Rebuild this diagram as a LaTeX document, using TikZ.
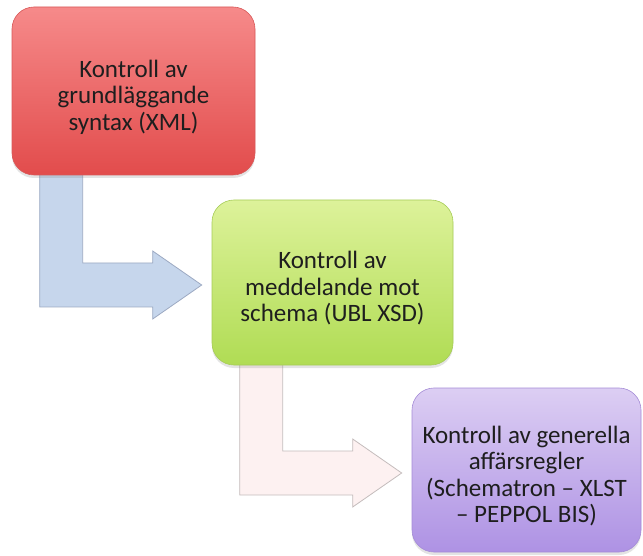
\documentclass[tikz,border=0pt]{standalone}
\usepackage{fontspec}
\setmainfont{Carlito}
\usetikzlibrary{calc,shadows}
\pgfdeclarelayer{background}
\pgfsetlayers{background,main}
\definecolor{redtop}{HTML}{F68A8A}
\definecolor{redbot}{HTML}{E24C4C}
\definecolor{redline}{HTML}{D85858}
\definecolor{greentop}{HTML}{DDF29A}
\definecolor{greenbot}{HTML}{B0DC54}
\definecolor{greenline}{HTML}{A6CC58}
\definecolor{purptop}{HTML}{DCCEF3}
\definecolor{purpbot}{HTML}{AE92E4}
\definecolor{purpline}{HTML}{A58CD6}
\definecolor{bluefill}{HTML}{C6D6EC}
\definecolor{blueline}{HTML}{9CA9C2}
\definecolor{pinkfill}{HTML}{FDF1F1}
\definecolor{pinkline}{HTML}{C4BCBC}
\definecolor{txt}{HTML}{1E1E1E}
\newcommand\boxtext[1]{\raisebox{-6pt}[\height][\depth]{\parbox{228pt}{\centering #1}}}
\begin{document}
\begin{tikzpicture}[x=1pt,y=-1pt,
  stepbox/.style={rectangle, rounded corners=22pt, text=txt,
    font=\fontsize{25}{26.5}\selectfont, inner sep=0pt, line width=0.6pt,
    drop shadow={shadow xshift=0pt,shadow yshift=-3pt,opacity=0.22}},
  blockarrow/.style={line width=0.8pt, line join=miter}]
\useasboundingbox (0,0) rectangle (643,556);

\node[stepbox, draw=redline, top color=redtop, bottom color=redbot,
      minimum width=243pt, minimum height=168pt] (b1) at (133.5,91)
  {\boxtext{Kontroll av\\grundläggande\\syntax (XML)}};
\node[stepbox, draw=greenline, top color=greentop, bottom color=greenbot,
      minimum width=241pt, minimum height=165pt] (b2) at (332.5,282.5)
  {\boxtext{Kontroll av\\meddelande mot\\schema (UBL XSD)}};
\node[stepbox, draw=purpline, top color=purptop, bottom color=purpbot,
      minimum width=229pt, minimum height=164pt] (b3) at (526.5,470)
  {\boxtext{Kontroll av generella\\affärsregler\\(Schematron – XLST\\– PEPPOL BIS)}};

\coordinate (a1s) at ($(b1.south west)+(28,-8)$);
\coordinate (a1c) at ($(b2.west)+(0,2.5)$);
\coordinate (a2s) at ($(b2.south west)+(28,-8)$);
\coordinate (a2c) at ($(b3.west)+(0,3)$);

\begin{pgfonlayer}{background}
\draw[blockarrow, draw=blueline, fill=bluefill]
  (a1s) -- ($(a1s |- a1c)+(0,22)$) -- ($(a1c)+(-59,22)$) -- ($(a1c)+(-59,34)$)
  -- ($(a1c)+(-10,0)$) -- ($(a1c)+(-59,-34)$) -- ($(a1c)+(-59,-22)$)
  -- ($(a1s |- a1c)+(43,-22)$) -- ($(a1s)+(43,0)$) -- cycle;
\draw[blockarrow, draw=pinkline, fill=pinkfill]
  (a2s) -- ($(a2s |- a2c)+(0,22)$) -- ($(a2c)+(-59,22)$) -- ($(a2c)+(-59,34)$)
  -- ($(a2c)+(-10,0)$) -- ($(a2c)+(-59,-34)$) -- ($(a2c)+(-59,-22)$)
  -- ($(a2s |- a2c)+(43,-22)$) -- ($(a2s)+(43,0)$) -- cycle;
\end{pgfonlayer}
\end{tikzpicture}
\end{document}
